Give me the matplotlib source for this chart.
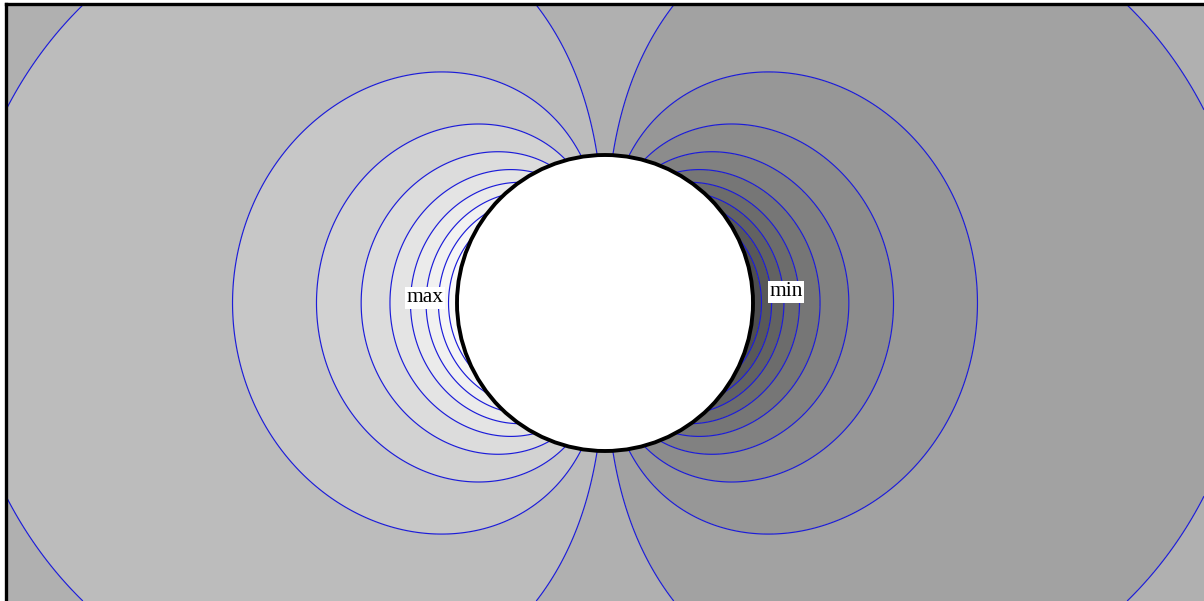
import numpy as np
import matplotlib
matplotlib.use("Agg")
import matplotlib.pyplot as plt
from matplotlib.patches import Circle

# ---- data (pixel-space geometry of the picture) ----
W, H = 1204, 601
center_x, center_y = 605.0, 303.0
radius = 148.0
n_bands = 19                      # evenly spaced bands between min and max
band_grays = [78, 88, 98, 108, 118, 129, 140, 151, 162,   # right side (min)
              176,                                         # middle band
              188, 199, 210, 220, 228, 235, 241, 246, 250] # left side (max)
labels = ["max", "min"]
label_pos = [(425, 298), (786, 292)]

# ---- field: dipole-like potential, max on the left, min on the right ----
xs = np.arange(0, W + 1, 1.0)
ys = np.arange(0, H + 1, 1.0)
X, Y = np.meshgrid(xs, ys)
dx = X - center_x
dy = Y - center_y
r = np.hypot(dx, dy)
r = np.where(r < 1e-6, 1e-6, r)
F = -(dx / r) * (radius / r) ** 2
F = np.ma.masked_where(r < radius - 2, F)

levels = np.linspace(-1.0, 1.0, n_bands + 1)
levels[0] -= 1e-9
levels[-1] += 1e-9
colors = [(g / 255, g / 255, g / 255) for g in band_grays]

fig = plt.figure(figsize=(W / 100, H / 100), dpi=100)
ax = fig.add_axes([6 / W, 0, 1 - 6 / W, 1 - 4 / H])
ax.contourf(X, Y, F, levels=levels, colors=colors)
ax.contour(X, Y, F, levels=levels[1:-1], colors=["#1c1cd8"],
           linewidths=0.85, linestyles="solid")

ax.add_patch(Circle((center_x, center_y), radius, facecolor="white",
                    edgecolor="black", linewidth=2.8, zorder=5))

for txt, (tx, ty) in zip(labels, label_pos):
    ax.text(tx, ty, txt, ha="center", va="center", fontsize=15.5,
            family="Liberation Serif", zorder=6,
            bbox=dict(facecolor="white", edgecolor="none", pad=1.2))

ax.set_xlim(6, W)
ax.set_ylim(H, 4)
ax.set_xticks([])
ax.set_yticks([])
for side in ["right", "bottom"]:
    ax.spines[side].set_visible(False)
for side in ["left", "top"]:
    ax.spines[side].set_linewidth(2.4)
    ax.spines[side].set_color("black")

fig.savefig("out.png", dpi=100)
